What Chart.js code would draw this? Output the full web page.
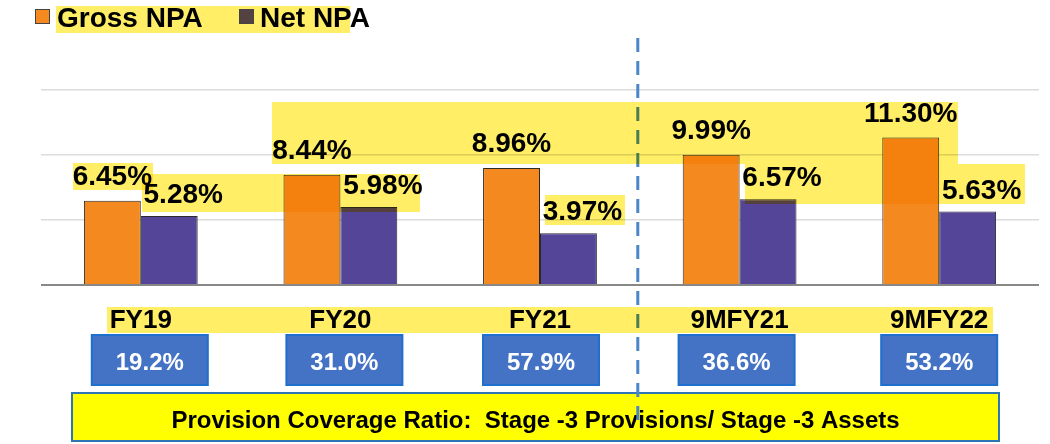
<!DOCTYPE html>
<html>
<head>
<meta charset="utf-8">
<script src="https://cdn.jsdelivr.net/npm/chart.js@4.4.1/dist/chart.umd.min.js"></script>
<style>
  html, body { margin: 0; padding: 0; background: #fff; }
  #wrap { position: relative; width: 1050px; height: 444px; }
</style>
</head>
<body>
<div id="wrap"><canvas id="npa-chart"></canvas></div>
<script>
// NPA trend, values in %
const periods = ['FY19', 'FY20', 'FY21', '9MFY21', '9MFY22'];
const grossNpa = [6.45, 8.44, 8.96, 9.99, 11.30];
const netNpa = [5.28, 5.98, 3.97, 6.57, 5.63];
const provisionCoverage = [19.2, 31.0, 57.9, 36.6, 53.2];
const seriesNames = ['Gross NPA', 'Net NPA'];
const footnote = 'Provision Coverage Ratio:  Stage -3 Provisions/ Stage -3 Assets';

const FONT = '"Liberation Sans", Arial, sans-serif';
const GROSS_COLOR = '#F48A1F';
const NET_COLOR = '#544599';

// the coverage boxes on the slide are not quite centred under each period
const boxNudge = [9, 4, 1, -3, 0];

// yellow text highlighting left over on the original slide [x, y, w, h]
const highlights = [
  [56, 6, 294, 27],
  [272, 102, 686, 62],
  [745, 164, 280, 40],
  [73, 163, 80, 27],
  [142, 174, 278, 38],
  [545, 195, 80, 30],
  [107, 307, 886, 26],
];

const bgPlugin = {
  id: 'bg',
  beforeDraw(chart) {
    const ctx = chart.ctx;
    ctx.save();
    ctx.fillStyle = '#fff';
    ctx.fillRect(0, 0, chart.width, chart.height);
    ctx.restore();
  },
};

const overlayPlugin = {
  id: 'overlay',
  afterDatasetsDraw(chart) {
    const ctx = chart.ctx;
    const xScale = chart.scales.x;
    ctx.save();

    // footnote box
    ctx.fillStyle = '#FFFF00';
    ctx.fillRect(72, 393, 927, 48);
    ctx.strokeStyle = '#2E75B6';
    ctx.lineWidth = 2;
    ctx.strokeRect(72, 393, 927, 48);
    ctx.fillStyle = '#000';
    ctx.font = 'bold 24px ' + FONT;
    ctx.textAlign = 'center';
    ctx.textBaseline = 'alphabetic';
    ctx.fillText(footnote, 535.5, 428);

    // dashed separator between full years and 9M periods
    const sepX = (xScale.getPixelForValue(2) + xScale.getPixelForValue(3)) / 2 - 2;
    ctx.strokeStyle = '#4A86C8';
    ctx.lineWidth = 3;
    ctx.setLineDash([14, 9]);
    ctx.beginPath();
    ctx.moveTo(sepX, 38);
    ctx.lineTo(sepX, 423);
    ctx.stroke();
    ctx.setLineDash([]);

    // highlights
    ctx.globalCompositeOperation = 'multiply';
    ctx.fillStyle = '#FFEE66';
    highlights.forEach(([hx, hy, hw, hh]) => ctx.fillRect(hx, hy, hw, hh));
    ctx.globalCompositeOperation = 'source-over';

    // legend
    ctx.lineWidth = 1;
    ctx.strokeStyle = '#444';
    ctx.fillStyle = GROSS_COLOR;
    ctx.fillRect(35, 9, 15, 15);
    ctx.strokeRect(35.5, 9.5, 14, 14);
    ctx.fillStyle = '#544141';
    ctx.fillRect(239, 9, 15, 15);
    ctx.strokeRect(239.5, 9.5, 14, 14);
    ctx.fillStyle = '#000';
    ctx.font = 'bold 28px ' + FONT;
    ctx.textAlign = 'left';
    ctx.fillText(seriesNames[0], 57, 27);
    ctx.fillText(seriesNames[1], 260, 27);

    // value labels
    ctx.textAlign = 'center';
    const grossBars = chart.getDatasetMeta(0).data;
    const netBars = chart.getDatasetMeta(1).data;
    grossNpa.forEach((v, i) => {
      ctx.fillText(v.toFixed(2) + '%', grossBars[i].x, grossBars[i].y - 16);
    });
    netNpa.forEach((v, i) => {
      ctx.fillText(v.toFixed(2) + '%', netBars[i].x + 14, netBars[i].y - 13);
    });

    // category labels and coverage boxes
    periods.forEach((p, i) => {
      const cx = xScale.getPixelForValue(i);
      ctx.fillStyle = '#000';
      ctx.font = 'bold 26px ' + FONT;
      ctx.fillText(p, cx, 328);

      const bx = cx + boxNudge[i];
      ctx.fillStyle = '#4472C4';
      ctx.fillRect(bx - 58, 335, 116, 50);
      ctx.strokeStyle = '#1F6FCF';
      ctx.lineWidth = 2;
      ctx.strokeRect(bx - 58, 335, 116, 50);
      ctx.fillStyle = '#fff';
      ctx.font = 'bold 24px ' + FONT;
      ctx.fillText(provisionCoverage[i].toFixed(1) + '%', bx, 370);
    });

    ctx.restore();
  },
};

const chartCtx = document.getElementById('npa-chart').getContext('2d');
new Chart(chartCtx, {
  type: 'bar',
  data: {
    labels: periods,
    datasets: [
      {
        label: seriesNames[0],
        data: grossNpa,
        backgroundColor: GROSS_COLOR,
        borderColor: '#2a2a2a',
        borderWidth: 1,
      },
      {
        label: seriesNames[1],
        data: netNpa,
        backgroundColor: NET_COLOR,
        borderColor: '#2a2a2a',
        borderWidth: 1,
      },
    ],
  },
  options: {
    responsive: true,
    maintainAspectRatio: false,
    animation: false,
    datasets: {
      bar: { categoryPercentage: 0.57, barPercentage: 1 },
    },
    layout: { padding: { left: 41, right: 11, top: 24, bottom: 159 } },
    plugins: {
      legend: { display: false },
      tooltip: { enabled: false },
    },
    scales: {
      x: {
        grid: { display: false, drawTicks: false },
        border: { display: false },
        ticks: { display: false },
      },
      y: {
        min: 0,
        max: 20,
        ticks: { display: false, stepSize: 5 },
        border: { display: false },
        grid: {
          drawTicks: false,
          color: (c) => (c.tick.value === 0 ? '#888' : c.tick.value === 20 ? 'rgba(0,0,0,0)' : '#DCDCDC'),
          lineWidth: (c) => (c.tick.value === 0 ? 2 : 1.5),
        },
      },
    },
  },
  plugins: [bgPlugin, overlayPlugin],
});
</script>
</body>
</html>
